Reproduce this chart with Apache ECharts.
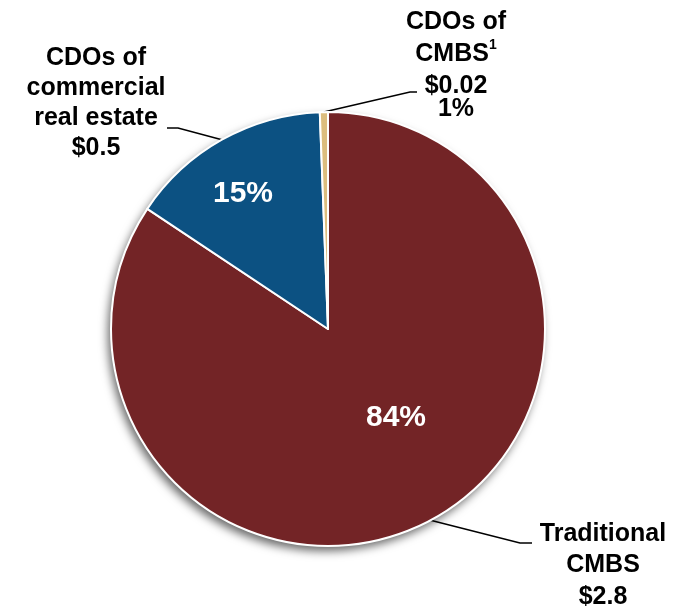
<!DOCTYPE html>
<html>
<head>
<meta charset="utf-8">
<script src="https://cdn.jsdelivr.net/npm/echarts@6/dist/echarts.min.js"></script>
<style>
  html, body { margin: 0; padding: 0; background: #fff; }
  #chart { width: 683px; height: 606px; }
</style>
</head>
<body>
<div id="chart"></div>
<script>
// Outstanding commercial real estate securities, $ trillions
const categories = ['Traditional CMBS', 'CDOs of commercial real estate', 'CDOs of CMBS'];
const categoryLabels = ['Traditional\nCMBS', 'CDOs of\ncommercial\nreal estate', 'CDOs of\nCMBS{sup|1}'];
const values = [2.8, 0.5, 0.02];
const colors = ['#732426', '#0c5182', '#dcbd7e'];

const FONT = '"Liberation Sans", Arial, Helvetica, sans-serif';
const CENTER = [328, 329];
const RADIUS = 217;

// Where each callout block sits and where its leader line bends
const callouts = [
  { x: 603, y: 518, elbow: [520, 543], end: [532, 543] },
  { x: 96,  y: 43.5, elbow: [178, 128], end: [167, 128] },
  { x: 456, y: 6,   elbow: [410, 92],  end: [417, 92] }
];
const lineHeights = [31.5, 30, 32];
// Percentage label anchors inside the slices
const pctSpots = [[396, 418], [243, 194], null];

const chart = echarts.init(document.getElementById('chart'), null, { renderer: 'canvas' });

const pieData = categories.map((name, i) => ({
  name: name,
  value: values[i],
  itemStyle: { color: colors[i] }
}));

function calloutText(p) {
  const i = p.dataIndex;
  let s = categoryLabels[i] + '\n$' + values[i];
  if (i === 2) s += '\n{last|' + p.percent + '%}';
  return s;
}

function calloutRich() {
  return {
    sup: { fontFamily: FONT, fontWeight: 'bold', fontSize: 14, color: '#000', verticalAlign: 'top', lineHeight: 32 },
    last: { fontFamily: FONT, fontWeight: 'bold', fontSize: 25, color: '#000', lineHeight: 14 }
  };
}

const option = {
  backgroundColor: '#ffffff',
  animation: false,
  series: [
    // soft drop shadow behind the disc
    {
      type: 'pie',
      silent: true,
      center: CENTER,
      radius: RADIUS,
      z: 1,
      label: { show: false },
      labelLine: { show: false },
      itemStyle: {
        color: '#ffffff',
        shadowColor: 'rgba(0,0,0,0.6)',
        shadowBlur: 10,
        shadowOffsetX: -3,
        shadowOffsetY: 5
      },
      data: [{ value: 1, name: '' }]
    },
    // slices with outside callouts
    {
      type: 'pie',
      center: CENTER,
      radius: RADIUS,
      startAngle: 90,
      clockwise: true,
      percentPrecision: 0,
      z: 2,
      itemStyle: { borderColor: '#ffffff', borderWidth: 2 },
      label: {
        show: true,
        position: 'outside',
        overflow: 'none',
        fontFamily: FONT,
        fontWeight: 'bold',
        fontSize: 25,
        color: '#000',
        align: 'center',
        formatter: calloutText
      },
      labelLine: {
        show: true,
        length: 20,
        length2: 10,
        lineStyle: { color: '#000', width: 1.5 }
      },
      labelLayout: function (params) {
        const i = params.dataIndex;
        const c = callouts[i];
        const p0 = params.labelLinePoints ? params.labelLinePoints[0] : c.elbow;
        return {
          x: c.x,
          y: c.y,
          align: 'center',
          verticalAlign: 'top',
          labelLinePoints: [p0, c.elbow, c.end]
        };
      },
      data: pieData.map((d, i) => Object.assign({}, d, {
        label: { lineHeight: lineHeights[i], rich: calloutRich() }
      }))
    },
    // percentage labels drawn inside the slices
    {
      type: 'pie',
      silent: true,
      center: CENTER,
      radius: RADIUS,
      startAngle: 90,
      clockwise: true,
      percentPrecision: 0,
      z: 3,
      itemStyle: { color: 'rgba(0,0,0,0)', borderWidth: 0 },
      label: {
        show: true,
        position: 'inside',
        fontFamily: FONT,
        fontWeight: 'bold',
        fontSize: 30,
        color: '#ffffff',
        formatter: '{d}%'
      },
      labelLine: { show: false },
      labelLayout: function (params) {
        const spot = pctSpots[params.dataIndex];
        if (!spot) return { x: -200, y: -200 };
        return { x: spot[0], y: spot[1], align: 'center', verticalAlign: 'middle' };
      },
      data: pieData.map((d, i) => ({
        name: d.name,
        value: d.value,
        label: { show: pctSpots[i] !== null }
      }))
    }
  ]
};

chart.setOption(option);
</script>
</body>
</html>
